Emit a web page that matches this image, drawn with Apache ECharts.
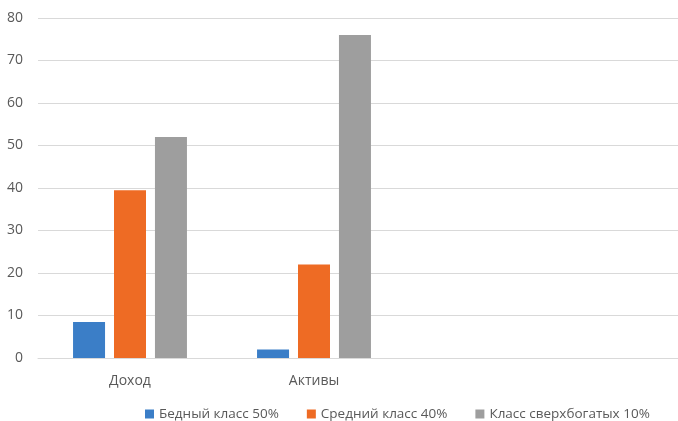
<!DOCTYPE html>
<html>
<head>
<meta charset="utf-8">
<script src="https://cdn.jsdelivr.net/npm/echarts@6/dist/echarts.min.js"></script>
<style>
html,body{margin:0;padding:0;background:#fff;overflow:hidden;}
#chart{width:774px;height:421px;}
</style>
</head>
<body>
<div id="chart"></div>
<script>
const categories = ['Доход', 'Активы', '', ''];
const seriesNames = ['Бедный класс 50%', 'Средний класс 40%', 'Класс сверхбогатых 10%'];
const poorValues = [8.5, 2];
const middleValues = [39.5, 22];
const richValues = [52, 76];
const yTicks = { min: 0, max: 80, interval: 10 };

const colors = ['#3B7EC7', '#EE6B24', '#9E9E9E'];
const font = '"Open Sans", "Noto Sans", sans-serif';

const chart = echarts.init(document.getElementById('chart'), null, { renderer: 'canvas' });
const values = [poorValues, middleValues, richValues];
chart.setOption({
  animation: false,
  backgroundColor: '#ffffff',
  textStyle: { fontFamily: font },
  grid: { left: 38, right: 0, top: 18, bottom: 63, containLabel: false },
  legend: {
    left: 145, top: 407, padding: 0,
    itemWidth: 9, itemHeight: 9, itemGap: 28,
    icon: 'rect',
    textStyle: { color: '#595959', fontSize: 13.5, fontFamily: font },
    data: seriesNames
  },
  xAxis: {
    type: 'category',
    data: categories,
    axisLine: { show: true, lineStyle: { color: '#D9D9D9', width: 1 } },
    axisTick: { show: false },
    axisLabel: { color: '#595959', fontSize: 14, fontFamily: font, margin: 16 }
  },
  yAxis: {
    type: 'value',
    min: yTicks.min, max: yTicks.max, interval: yTicks.interval,
    axisLine: { show: false },
    axisTick: { show: false },
    axisLabel: { color: '#595959', fontSize: 14, fontFamily: font, margin: 15 },
    splitLine: { lineStyle: { color: '#D9D9D9', width: 1 } }
  },
  series: seriesNames.map((name, i) => ({
    name: name,
    type: 'bar',
    data: values[i],
    barWidth: 32,
    barGap: '28%',
    itemStyle: { color: colors[i] }
  }))
});
</script>
</body>
</html>
